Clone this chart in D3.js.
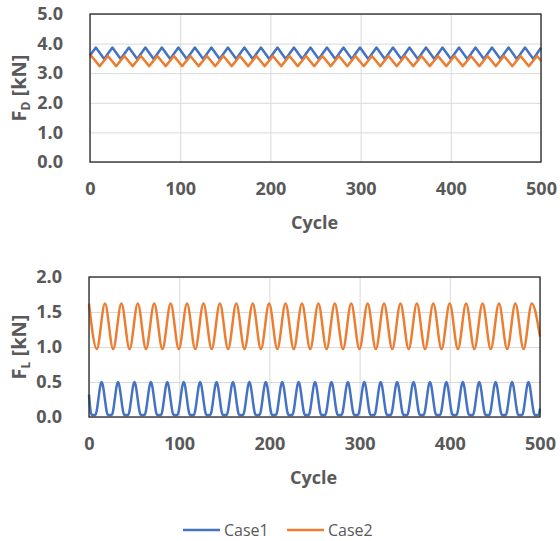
<!doctype html>
<html>
<head>
<meta charset="UTF-8">
<title>Drag and lift force per cycle</title>
<style>
  body { margin: 0; background: #fff; }
  #container { width: 560px; height: 541px; }
  .tick text { font-family: "Open Sans", sans-serif; font-weight: bold; font-size: 18px; fill: #595959; }
  .grid line { stroke: #d9d9d9; stroke-width: 1; }
</style>
</head>
<body>
<div id="container"></div>
<script src="https://cdn.jsdelivr.net/npm/d3@7"></script>
<script>
// x ticks shared by both panels
var cycleTicks = [0, 100, 200, 300, 400, 500];
var fdTicks = [0, 1, 2, 3, 4, 5];
var flTicks = [0, 0.5, 1, 1.5, 2];
var seriesNames = ["Case1", "Case2"];
var seriesColors = ["#4472c4", "#ed7d31"];

// F_D, Case1: turning points
var fdCase1Cycle = [0, 6.5, 15.7, 24.8, 34.0, 43.1, 52.3, 61.4, 70.6, 79.7, 88.9, 98.0, 107.2, 116.3, 125.5,
  134.6, 143.8, 152.9, 162.1, 171.2, 180.4, 189.5, 198.7, 207.8, 217.0, 226.1, 235.3, 244.4, 253.6, 262.7,
  271.9, 281.0, 290.2, 299.3, 308.5, 317.6, 326.8, 335.9, 345.1, 354.2, 363.4, 372.5, 381.7, 390.8, 400.0,
  409.1, 418.3, 427.4, 436.6, 445.7, 454.9, 464.0, 473.2, 482.3, 491.5, 500];
var fdCase1 = [3.60, 3.87, 3.48, 3.87, 3.48, 3.87, 3.48, 3.87, 3.48, 3.87, 3.48, 3.87, 3.48, 3.87, 3.48,
  3.87, 3.48, 3.87, 3.48, 3.87, 3.48, 3.87, 3.48, 3.87, 3.48, 3.87, 3.48, 3.87, 3.48, 3.87,
  3.48, 3.87, 3.48, 3.87, 3.48, 3.87, 3.48, 3.87, 3.48, 3.87, 3.48, 3.87, 3.48, 3.87, 3.48,
  3.87, 3.48, 3.87, 3.48, 3.87, 3.48, 3.87, 3.48, 3.87, 3.48, 3.86];

// F_D, Case2
var fdCase2Cycle = [0, 1.5, 10.7, 19.8, 29.0, 38.1, 47.3, 56.4, 65.6, 74.7, 83.9, 93.0, 102.2, 111.3, 120.5,
  129.6, 138.8, 147.9, 157.1, 166.2, 175.4, 184.5, 193.7, 202.8, 212.0, 221.1, 230.3, 239.4, 248.6, 257.7,
  266.9, 276.0, 285.2, 294.3, 303.5, 312.6, 321.8, 330.9, 340.1, 349.2, 358.4, 367.5, 376.7, 385.8, 395.0,
  404.1, 413.3, 422.4, 431.6, 440.7, 449.9, 459.0, 468.2, 477.3, 486.5, 495.6, 500];
var fdCase2 = [3.55, 3.58, 3.24, 3.58, 3.24, 3.58, 3.24, 3.58, 3.24, 3.58, 3.24, 3.58, 3.24, 3.58, 3.24,
  3.58, 3.24, 3.58, 3.24, 3.58, 3.24, 3.58, 3.24, 3.58, 3.24, 3.58, 3.24, 3.58, 3.24, 3.58,
  3.24, 3.58, 3.24, 3.58, 3.24, 3.58, 3.24, 3.58, 3.24, 3.58, 3.24, 3.58, 3.24, 3.58, 3.24,
  3.58, 3.24, 3.58, 3.24, 3.58, 3.24, 3.58, 3.24, 3.58, 3.24, 3.58, 3.42];

// F_L, Case1 (peaks with flat troughs)
var flCase1Cycle = [0, 2.8, 7.0, 14.0, 21.0, 25.2, 32.2, 39.2, 43.4, 50.4, 57.4, 61.6, 68.6, 75.6, 79.8,
  86.8, 93.8, 98.0, 105.0, 112.0, 116.2, 123.2, 130.2, 134.4, 141.4, 148.4, 152.6, 159.6, 166.6, 170.8,
  177.8, 184.8, 189.0, 196.0, 203.0, 207.2, 214.2, 221.2, 225.4, 232.4, 239.4, 243.6, 250.6, 257.6, 261.8,
  268.8, 275.8, 280.0, 287.0, 294.0, 298.2, 305.2, 312.2, 316.4, 323.4, 330.4, 334.6, 341.6, 348.6, 352.8,
  359.8, 366.8, 371.0, 378.0, 385.0, 389.2, 396.2, 403.2, 407.4, 414.4, 421.4, 425.6, 432.6, 439.6, 443.8,
  450.8, 457.8, 462.0, 469.0, 476.0, 480.2, 487.2, 494.2, 498.4, 500];
var flCase1 = [0.32, 0.03, 0.03, 0.50, 0.03, 0.03, 0.50, 0.03, 0.03, 0.50, 0.03, 0.03, 0.50, 0.03, 0.03,
  0.50, 0.03, 0.03, 0.50, 0.03, 0.03, 0.50, 0.03, 0.03, 0.50, 0.03, 0.03, 0.50, 0.03, 0.03,
  0.50, 0.03, 0.03, 0.50, 0.03, 0.03, 0.50, 0.03, 0.03, 0.50, 0.03, 0.03, 0.50, 0.03, 0.03,
  0.50, 0.03, 0.03, 0.50, 0.03, 0.03, 0.50, 0.03, 0.03, 0.50, 0.03, 0.03, 0.50, 0.03, 0.03,
  0.50, 0.03, 0.03, 0.50, 0.03, 0.03, 0.50, 0.03, 0.03, 0.50, 0.03, 0.03, 0.50, 0.03, 0.03,
  0.50, 0.03, 0.03, 0.50, 0.03, 0.03, 0.50, 0.03, 0.03, 0.12];

// F_L, Case2 (sine-like)
var flCase2Cycle = [0, 8.6, 17.7, 26.8, 35.9, 45.0, 54.1, 63.2, 72.3, 81.4, 90.5, 99.6, 108.7, 117.8,
  126.9, 136.0, 145.1, 154.2, 163.3, 172.4, 181.5, 190.6, 199.7, 208.8, 217.9, 227.0, 236.1, 245.2,
  254.3, 263.4, 272.5, 281.6, 290.7, 299.8, 308.9, 318.0, 327.1, 336.2, 345.3, 354.4, 363.5, 372.6,
  381.7, 390.8, 399.9, 409.0, 418.1, 427.2, 436.3, 445.4, 454.5, 463.6, 472.7, 481.8, 490.9, 500];
var flCase2 = [1.62, 0.97, 1.62, 0.97, 1.62, 0.97, 1.62, 0.97, 1.62, 0.97, 1.62, 0.97, 1.62, 0.97,
  1.62, 0.97, 1.62, 0.97, 1.62, 0.97, 1.62, 0.97, 1.62, 0.97, 1.62, 0.97, 1.62, 0.97,
  1.62, 0.97, 1.62, 0.97, 1.62, 0.97, 1.62, 0.97, 1.62, 0.97, 1.62, 0.97, 1.62, 0.97,
  1.62, 0.97, 1.62, 0.97, 1.62, 0.97, 1.62, 0.97, 1.62, 0.97, 1.62, 0.97, 1.62, 1.15];

var svg = d3.select("#container")
    .append("svg")
    .attr("width", 560)
    .attr("height", 541);

function zip(xs, ys) {
  return xs.map(function (x, i) { return [x, ys[i]]; });
}

function panel(opt) {
  var x = d3.scaleLinear().domain([0, 500]).range([opt.left, opt.right]);
  var y = d3.scaleLinear().domain(opt.yDomain).range([opt.bottom, opt.top]);
  var g = svg.append("g");

  // gridlines
  g.append("g").attr("class", "grid")
      .attr("transform", "translate(0," + opt.bottom + ")")
      .call(d3.axisBottom(x).tickValues(cycleTicks).tickSize(-(opt.bottom - opt.top)).tickFormat(""))
      .call(function (s) { s.select(".domain").remove(); });
  g.append("g").attr("class", "grid")
      .attr("transform", "translate(" + opt.left + ",0)")
      .call(d3.axisLeft(y).tickValues(opt.yTicks).tickSize(-(opt.right - opt.left)).tickFormat(""))
      .call(function (s) { s.select(".domain").remove(); });

  // tick labels
  g.append("g")
      .attr("transform", "translate(0," + opt.bottom + ")")
      .call(d3.axisBottom(x).tickValues(cycleTicks).tickSize(0).tickPadding(opt.xPad).tickFormat(d3.format("d")))
      .call(function (s) { s.select(".domain").remove(); });
  g.append("g")
      .attr("transform", "translate(" + opt.left + ",0)")
      .call(d3.axisLeft(y).tickValues(opt.yTicks).tickSize(0).tickPadding(27).tickFormat(d3.format(".1f")))
      .call(function (s) { s.select(".domain").remove(); });

  // series
  var line = d3.line()
      .x(function (d) { return x(d[0]); })
      .y(function (d) { return y(d[1]); })
      .curve(opt.curve);
  opt.series.forEach(function (d, i) {
    g.append("path")
        .datum(d)
        .attr("d", line)
        .attr("fill", "none")
        .attr("stroke", seriesColors[i])
        .attr("stroke-width", 2.5)
        .attr("stroke-linejoin", "round");
  });

  // frame
  g.append("rect")
      .attr("x", opt.left).attr("y", opt.top)
      .attr("width", opt.right - opt.left).attr("height", opt.bottom - opt.top)
      .attr("fill", "none").attr("stroke", "#262626").attr("stroke-width", 1.3);

  // axis titles
  g.append("text")
      .attr("x", (opt.left + opt.right) / 2 - 1)
      .attr("y", opt.bottom + opt.titleDy)
      .attr("text-anchor", "middle")
      .style("font-family", "'Open Sans', sans-serif")
      .style("font-weight", "bold").style("font-size", "18px").style("fill", "#595959")
      .text("Cycle");

  var yt = g.append("text")
      .attr("transform", "translate(26," + (opt.top + opt.bottom) / 2 + ") rotate(-90)")
      .attr("text-anchor", "middle")
      .style("font-family", "'Open Sans', sans-serif")
      .style("font-weight", "bold").style("font-size", "20px").style("fill", "#595959");
  yt.append("tspan").text("F");
  yt.append("tspan").attr("dy", 4).style("font-size", "12px").text(opt.sub);
  yt.append("tspan").attr("dy", -4).text(" [kN]");
}

panel({
  left: 90, right: 541, top: 14, bottom: 162,
  yDomain: [0, 5], yTicks: fdTicks, xPad: 20, titleDy: 67, sub: "D",
  curve: d3.curveLinear,
  series: [zip(fdCase1Cycle, fdCase1), zip(fdCase2Cycle, fdCase2)]
});

panel({
  left: 89, right: 540, top: 277, bottom: 417,
  yDomain: [0, 2], yTicks: flTicks, xPad: 20, titleDy: 67, sub: "L",
  curve: d3.curveMonotoneX,
  series: [zip(flCase1Cycle, flCase1), zip(flCase2Cycle, flCase2)]
});

// legend
var legend = svg.append("g").attr("transform", "translate(183,530)");
seriesNames.forEach(function (name, i) {
  var lg = legend.append("g").attr("transform", "translate(" + (i * 104) + ",0)");
  lg.append("line").attr("x1", 0).attr("x2", 37).attr("y1", 0).attr("y2", 0)
      .attr("stroke", seriesColors[i]).attr("stroke-width", 2.5);
  lg.append("text").attr("x", 41).attr("y", 6)
      .style("font-family", "'Open Sans', sans-serif")
      .style("font-size", "16px").style("fill", "#595959")
      .text(name);
});
</script>
</body>
</html>
